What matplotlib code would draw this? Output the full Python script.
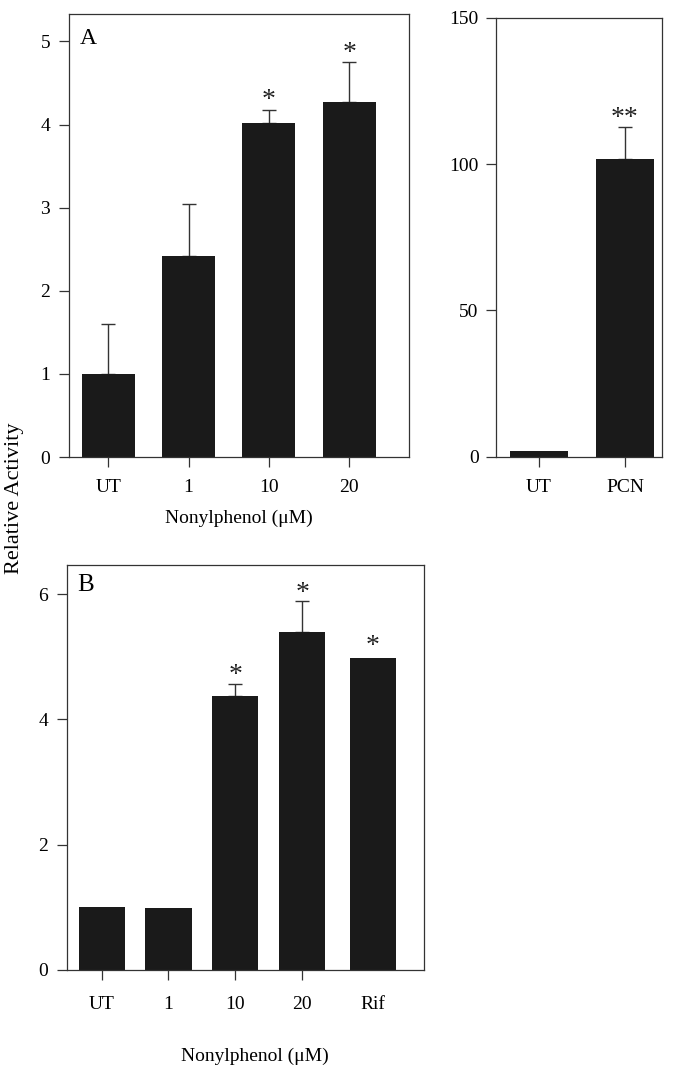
import numpy as np
import matplotlib
matplotlib.use('Agg')
import matplotlib.pyplot as plt

plt.rcParams['font.family'] = ['Liberation Serif', 'DejaVu Serif']

# панель A слева: нонилфенол
cats_a = ['UT', '1', '10', '20']
vals_a = [1.0, 2.42, 4.02, 4.27]
errs_a = [0.60, 0.63, 0.16, 0.48]
stars_a = ['', '', '*', '*']

# панель A справа: PCN
cats_pcn = ['UT', 'PCN']
vals_pcn = [2.0, 101.8]
errs_pcn = [0.0, 10.7]
stars_pcn = ['', '**']

# панель B
cats_b = ['UT', '1', '10', '20', 'Rif']
pos_b = [0, 1, 2, 3, 4.06]
vals_b = [1.0, 0.98, 4.38, 5.40, 4.99]
errs_b = [0.0, 0.0, 0.19, 0.49, 0.0]
stars_b = ['', '', '*', '*', '*']

W, H = 674, 1065
BAR = '#1a1a1a'
LINE = '#333333'

def px_axes(fig, left, top, right, bottom):
    return fig.add_axes([left / W, 1 - bottom / H, (right - left) / W, (bottom - top) / H])

def style(ax, ypad=6.5):
    for s in ax.spines.values():
        s.set_color(LINE)
        s.set_linewidth(0.9)
    ax.tick_params(direction='out', length=7, width=0.9, color=LINE, labelsize=14)
    ax.tick_params(axis='y', pad=ypad)
    ax.tick_params(axis='x', pad=9)

def bars(ax, x, vals, errs, stars, width, star_off):
    ax.bar(x, vals, width=width, color=BAR, edgecolor='none', zorder=2)
    for xi, v, e, s in zip(x, vals, errs, stars):
        if e > 0:
            ax.errorbar(xi, v, yerr=[[0], [e]], fmt='none', ecolor=LINE,
                        elinewidth=1, capsize=5, capthick=1, zorder=1)
        if s:
            off = star_off + (2 if e == 0 else 0)
            ax.annotate(s, (xi, v + e), xytext=(0, off), textcoords='offset points',
                        ha='center', va='baseline', fontsize=20, color='#222222')

fig = plt.figure(figsize=(W / 100, H / 100), dpi=100)

# A слева
ax1 = px_axes(fig, 69, 14, 409, 457)
xa = np.arange(len(cats_a))
bars(ax1, xa, vals_a, errs_a, stars_a, 0.66, 1.5)
ax1.set_xlim(-0.49, 3.745)
ax1.set_ylim(0, 5.33)
ax1.set_yticks(range(6))
ax1.set_xticks(xa)
ax1.set_xticklabels(cats_a)
style(ax1)
ax1.text(0.033, 0.945, 'A', transform=ax1.transAxes, fontsize=17, va='center', ha='left')

# A справа
ax2 = px_axes(fig, 496, 17.7, 662, 456.7)
xp = np.arange(len(cats_pcn))
bars(ax2, xp, vals_pcn, errs_pcn, stars_pcn, 0.665, 2)
ax2.set_xlim(-0.5, 1.43)
ax2.set_ylim(0, 150)
ax2.set_yticks([0, 50, 100, 150])
ax2.set_xticks(xp)
ax2.set_xticklabels(cats_pcn)
style(ax2, ypad=5.5)

# B
ax3 = px_axes(fig, 66.7, 565, 424, 969.7)
bars(ax3, pos_b, vals_b, errs_b, stars_b, 0.69, 1)
ax3.set_xlim(-0.524, 4.825)
ax3.set_ylim(0, 6.47)
ax3.set_yticks([0, 2, 4, 6])
ax3.set_xticks(pos_b)
ax3.set_xticklabels(cats_b)
style(ax3)
ax3.tick_params(axis='x', pad=12)
ax3.xaxis.get_major_ticks()[4].tick1line.set_visible(False)
ax3.text(0.03, 0.95, 'B', transform=ax3.transAxes, fontsize=18, va='center', ha='left')

fig.text(239 / W, 1 - 518 / H, 'Nonylphenol (\u03bcM)', ha='center', va='center', fontsize=14)
fig.text(255 / W, 1 - 1056 / H, 'Nonylphenol (\u03bcM)', ha='center', va='center', fontsize=14)
fig.text(15 / W, 1 - 498 / H, 'Relative Activity', rotation=90, ha='center', va='center', fontsize=16)

fig.savefig('out.png', dpi=100)
